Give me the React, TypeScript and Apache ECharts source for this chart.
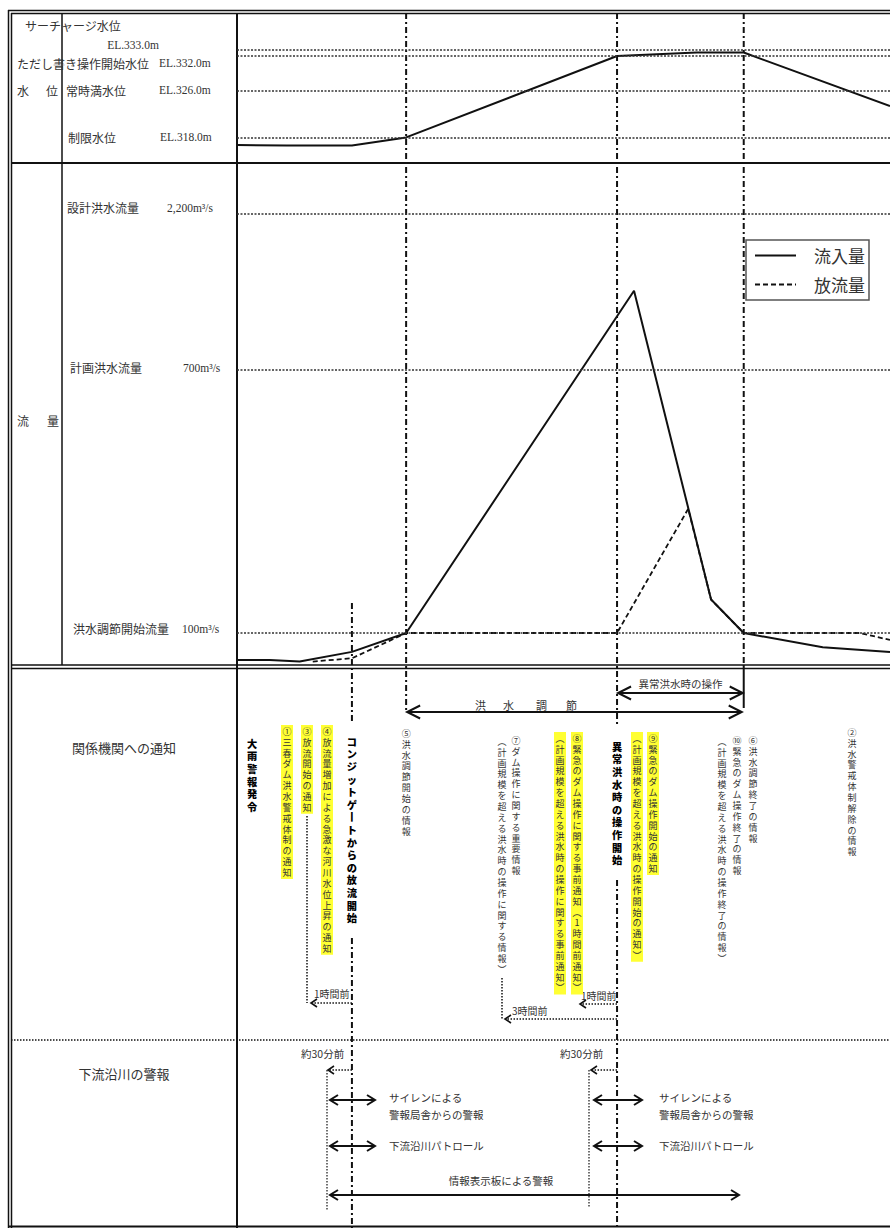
import React, { useEffect, useRef } from "react";
import * as echarts from "echarts";

// ---- data (schematic time axis 0..100 across the chart area) ----
const levelTime = [0, 7.6, 17.6, 25.9, 58.2, 70.4, 77.6, 100];
const levelEL = [316.7, 316.6, 316.6, 318, 332, 332.6, 332.6, 323.4];
const levelMarks = [333, 332, 326, 318];

const inflowTime = [0, 5, 9.6, 17.6, 25.9, 60.8, 72.6, 77.6, 89.7, 100];
const inflow = [82, 82, 81, 87, 100, 1250, 128, 100, 90, 87];
const outflowTime = [11.6, 17.6, 25.9, 58.2, 69.1, 72.6, 77.6, 95.4, 100];
const outflow = [81, 83, 100, 100, 250, 128, 100, 100, 95];
const flowMarks = [100, 700, 2200];

// gate discharge start, flood control start, abnormal-flood operation start, flood control end
const eventTimes = [17.6, 25.9, 58.2, 77.6];

const seriesNames = ["流入量", "放流量"];

const JP = '"Noto Sans CJK JP", "Noto Sans", sans-serif';
const JP_HEAVY = '"Noto Sans CJK JP Black", "Noto Sans CJK JP Medium", "Noto Sans CJK JP", sans-serif';
const SERIF = '"Liberation Serif", "DejaVu Serif", serif';
const INK = "#111";
const TXT = "#333";
const DD = [6, 3, 2, 3];
const DOT = [1.5, 1.5];
const HL = "#ffff33";

const zip = (a: number[], b: number[]) => a.map((v, i) => [v, b[i]]);

const seg = (x1: number, y1: number, x2: number, y2: number, w = 1.5, dash?: number[], color = INK) => ({
  type: "line",
  silent: true,
  shape: { x1, y1, x2, y2 },
  style: { stroke: color, lineWidth: w, lineDash: dash },
});

const chev = (x: number, y: number, dir: number, w = 12, h = 6, lw = 2) => ({
  type: "polyline",
  silent: true,
  shape: { points: [[x - dir * w, y - h], [x, y], [x - dir * w, y + h]] },
  style: { stroke: INK, lineWidth: lw, fill: "none" },
});

const txt = (x: number, y: number, s: string, o: any = {}) => ({
  type: "text",
  silent: true,
  x,
  y,
  style: {
    text: s,
    fill: o.color || TXT,
    fontSize: o.size || 12,
    fontFamily: o.font || JP,
    align: o.align || "left",
    verticalAlign: o.va || "middle",
  },
});

const vmap: Record<string, string> = { "ー": "丨", "（": "︵", "）": "︶" };
const vtxt = (x: number, y: number, s: string, o: any = {}) => {
  const lh = o.bold ? 12.6 : 10.85;
  const fs = o.bold ? 10.2 : 9;
  return {
    type: "text",
    silent: true,
    x,
    y,
    z: 5,
    style: {
      text: Array.from(s).map((c) => vmap[c] || c).join("\n"),
      fill: o.bold ? "#000" : TXT,
      fontSize: fs,
      lineHeight: lh,
      fontFamily: o.bold ? JP_HEAVY : JP,
      align: "center",
      verticalAlign: "top",
      backgroundColor: o.hl ? HL : undefined,
      padding: o.hl ? [1, 1.5, 1, 1.5] : 0,
    },
  };
};

const dbl = (x1: number, x2: number, y: number, w = 8, h = 5) => [
  seg(x1, y, x2, y, 2),
  chev(x1, y, -1, w, h, 2),
  chev(x2, y, 1, w, h, 2),
];

const dotArrow = (xFrom: number, xTo: number, y: number) => [
  seg(xFrom, y, xTo + 1, y, 1.6, DOT),
  chev(xTo, y, -1, 6, 4, 1.6),
];

export default function App() {
  const ref = useRef<HTMLDivElement>(null);

  useEffect(() => {
    const el = ref.current!;
    const chart = echarts.init(el, null, { renderer: "svg" });

    const refLine = {
      silent: true,
      symbol: ["none", "none"],
      label: { show: false },
      lineStyle: { type: [2, 1.5], color: "#333", width: 1.5 },
      emphasis: { disabled: true },
    };

    chart.setOption({
      animation: false,
      backgroundColor: "#fff",
      grid: [
        { left: 237, top: 13, width: 653, height: 150 },
        { left: 237, top: 163, width: 653, height: 502 },
      ],
      xAxis: [
        { type: "value", gridIndex: 0, min: 0, max: 100, show: false },
        { type: "value", gridIndex: 1, min: 0, max: 100, show: false },
      ],
      yAxis: [
        { type: "value", gridIndex: 0, min: 313.6, max: 339.4, show: false },
        { type: "log", logBase: 10, gridIndex: 1, min: 78.97, max: 3209, show: false },
      ],
      legend: {
        data: seriesNames,
        left: 746,
        top: 240,
        orient: "vertical",
        padding: [7, 4, 7, 8],
        itemWidth: 41,
        itemHeight: 12,
        itemGap: 12,
        borderColor: "#555",
        borderWidth: 1.5,
        backgroundColor: "#fff",
        selectedMode: false,
        itemStyle: { color: "rgba(0,0,0,0)", borderWidth: 0, opacity: 0 },
        textStyle: { fontSize: 17, color: "#333", fontFamily: JP, padding: [0, 0, 0, 13] },
      },
      series: [
        {
          name: "貯水位",
          type: "line",
          xAxisIndex: 0,
          yAxisIndex: 0,
          data: zip(levelTime, levelEL),
          symbol: "none",
          lineStyle: { color: INK, width: 2 },
          markLine: { ...refLine, data: levelMarks.map((v) => ({ yAxis: v })) },
        },
        {
          name: seriesNames[0],
          type: "line",
          xAxisIndex: 1,
          yAxisIndex: 1,
          data: zip(inflowTime, inflow),
          symbol: "none",
          z: 3,
          color: INK,
          lineStyle: { color: INK, width: 2 },
          markLine: { ...refLine, data: flowMarks.map((v) => ({ yAxis: v })) },
        },
        {
          name: seriesNames[1],
          type: "line",
          xAxisIndex: 1,
          yAxisIndex: 1,
          data: zip(outflowTime, outflow),
          symbol: "none",
          z: 4,
          color: INK,
          lineStyle: { color: INK, width: 1.8, type: [5, 3] },
        },
      ],
    });

    const [xG, xC, xA, xE] = eventTimes.map(
      (t) => chart.convertToPixel({ xAxisIndex: 1 }, t) as number
    );

    const els: any[] = [
      // frame
      seg(8.5, 10, 8.5, 1228, 1.5),
      seg(11.5, 13, 11.5, 1228, 1.5),
      seg(8, 10.5, 890, 10.5, 1.5),
      seg(11, 13.5, 890, 13.5, 1.5),
      seg(237, 13, 237, 1228, 2),
      seg(62, 13, 62, 665, 1.5),
      seg(11, 163, 890, 163, 2),
      seg(11, 665, 890, 665, 1.5),
      seg(11, 668.5, 890, 668.5, 1.5),
      seg(11, 1040, 890, 1040, 1.5, DOT),
      seg(8, 1226.5, 890, 1226.5, 2),

      // event lines
      seg(xG, 603, xG, 722, 2, DD),
      seg(xG, 938, xG, 1228, 2, DD),
      seg(xC, 13, xC, 712, 2, DD),
      seg(xA, 13, xA, 726, 2, DD),
      seg(xA, 880, xA, 1228, 2, DD),
      seg(xE, 13, xE, 665, 2, DD),
      seg(xE, 665, xE, 708, 2),

      // flood control arrows
      seg(xC + 1, 712, xE - 2, 712, 2),
      chev(xC + 1, 712, -1, 13, 6.5),
      chev(xE - 2, 712, 1, 13, 6.5),
      seg(xA + 1, 693, xE - 1, 693, 2),
      chev(xA + 1, 693, -1, 13, 6.5),
      chev(xE - 1, 693, 1, 13, 6.5),
      txt(475, 705, "洪", { size: 11 }),
      txt(503, 705, "水", { size: 11 }),
      txt(536, 705, "調", { size: 11 }),
      txt(566, 705, "節", { size: 11 }),
      txt((xA + xE) / 2, 683, "異常洪水時の操作", { size: 10.5, align: "center" }),

      // left labels
      txt(25, 25, "サーチャージ水位"),
      txt(133, 45, "EL.333.0m", { font: SERIF, size: 11.5, align: "center" }),
      txt(17, 63, "ただし書き操作開始水位"),
      txt(159, 63, "EL.332.0m", { font: SERIF, size: 11.5 }),
      txt(17, 90, "水"),
      txt(46, 90, "位"),
      txt(66, 90, "常時満水位"),
      txt(159, 90, "EL.326.0m", { font: SERIF, size: 11.5 }),
      txt(68, 137, "制限水位"),
      txt(160, 137, "EL.318.0m", { font: SERIF, size: 11.5 }),
      txt(67, 207, "設計洪水流量"),
      txt(167, 208, "2,200m³/s", { font: SERIF, size: 11.5 }),
      txt(70, 367, "計画洪水流量"),
      txt(183, 368, "700m³/s", { font: SERIF, size: 11.5 }),
      txt(17, 420, "流"),
      txt(47, 420, "量"),
      txt(73, 628, "洪水調節開始流量"),
      txt(182, 629, "100m³/s", { font: SERIF, size: 11.5 }),
      txt(124, 747, "関係機関への通知", { size: 13, align: "center" }),
      txt(124, 1073, "下流沿川の警報", { size: 13, align: "center" }),

      // notification columns
      vtxt(252, 737, "大雨警報発令", { bold: true }),
      vtxt(287, 725, "①三春ダム洪水警戒体制の通知", { hl: true }),
      vtxt(307, 725, "③放流開始の通知", { hl: true }),
      vtxt(327, 725, "④放流量増加による急激な河川水位上昇の通知", { hl: true }),
      vtxt(xG, 735, "コンジットゲートからの放流開始", { bold: true }),
      vtxt(xC, 728, "⑤洪水調節開始の情報"),
      vtxt(502, 736, "（計画規模を超える洪水時の操作に関する情報）"),
      vtxt(516, 735, "⑦ダム操作に関する重要情報"),
      vtxt(560, 732, "（計画規模を超える洪水時の操作に関する事前通知）", { hl: true }),
      vtxt(577, 732, "⑧緊急のダム操作に関する事前通知（1時間前通知）", { hl: true }),
      vtxt(xA, 740, "異常洪水時の操作開始", { bold: true }),
      vtxt(637, 732, "（計画規模を超える洪水時の操作開始の通知）", { hl: true }),
      vtxt(653, 732, "⑨緊急のダム操作開始の通知", { hl: true }),
      vtxt(722, 736, "（計画規模を超える洪水時の操作終了の情報）"),
      vtxt(737, 735, "⑩緊急のダム操作終了の情報"),
      vtxt(753, 735, "⑥洪水調節終了の情報"),
      vtxt(852, 727, "②洪水警戒体制解除の情報"),

      // advance-notice arrows
      seg(307, 816, 307, 1003, 1.5, DOT),
      ...dotArrow(xG, 311, 1003),
      txt(314, 993, "1時間前", { size: 10 }),
      seg(502, 978, 502, 1019, 1.5, DOT),
      ...dotArrow(xA, 505, 1019),
      txt(512, 1010, "3時間前", { size: 10 }),
      ...dotArrow(xA, 580, 1004),
      txt(581, 995, "1時間前", { size: 10 }),

      // downstream warnings
      txt(301, 1053, "約30分前", { size: 10.5 }),
      ...dotArrow(xG, 328, 1070),
      seg(327, 1070, 327, 1210, 1.2, DOT),
      ...dbl(330, 375, 1100),
      ...dbl(330, 375, 1146),
      ...dbl(330, 739, 1195),
      txt(389, 1097, "サイレンによる", { size: 10.5 }),
      txt(389, 1114, "警報局舎からの警報", { size: 10.5 }),
      txt(389, 1145, "下流沿川パトロール", { size: 10.5 }),
      txt(501, 1180, "情報表示板による警報", { size: 10.5, align: "center" }),
      txt(560, 1053, "約30分前", { size: 10.5 }),
      ...dotArrow(xA, 591, 1070),
      seg(589, 1070, 589, 1207, 1.2, DOT),
      ...dbl(594, 642, 1100),
      ...dbl(594, 642, 1146),
      txt(659, 1097, "サイレンによる", { size: 10.5 }),
      txt(659, 1114, "警報局舎からの警報", { size: 10.5 }),
      txt(659, 1145, "下流沿川パトロール", { size: 10.5 }),
    ];

    chart.setOption({ graphic: { elements: els } });

    return () => {
      chart.dispose();
    };
  }, []);

  return (
    <div
      ref={ref}
      style={{ position: "absolute", left: 0, top: 0, width: 890, height: 1228, background: "#fff" }}
    />
  );
}
